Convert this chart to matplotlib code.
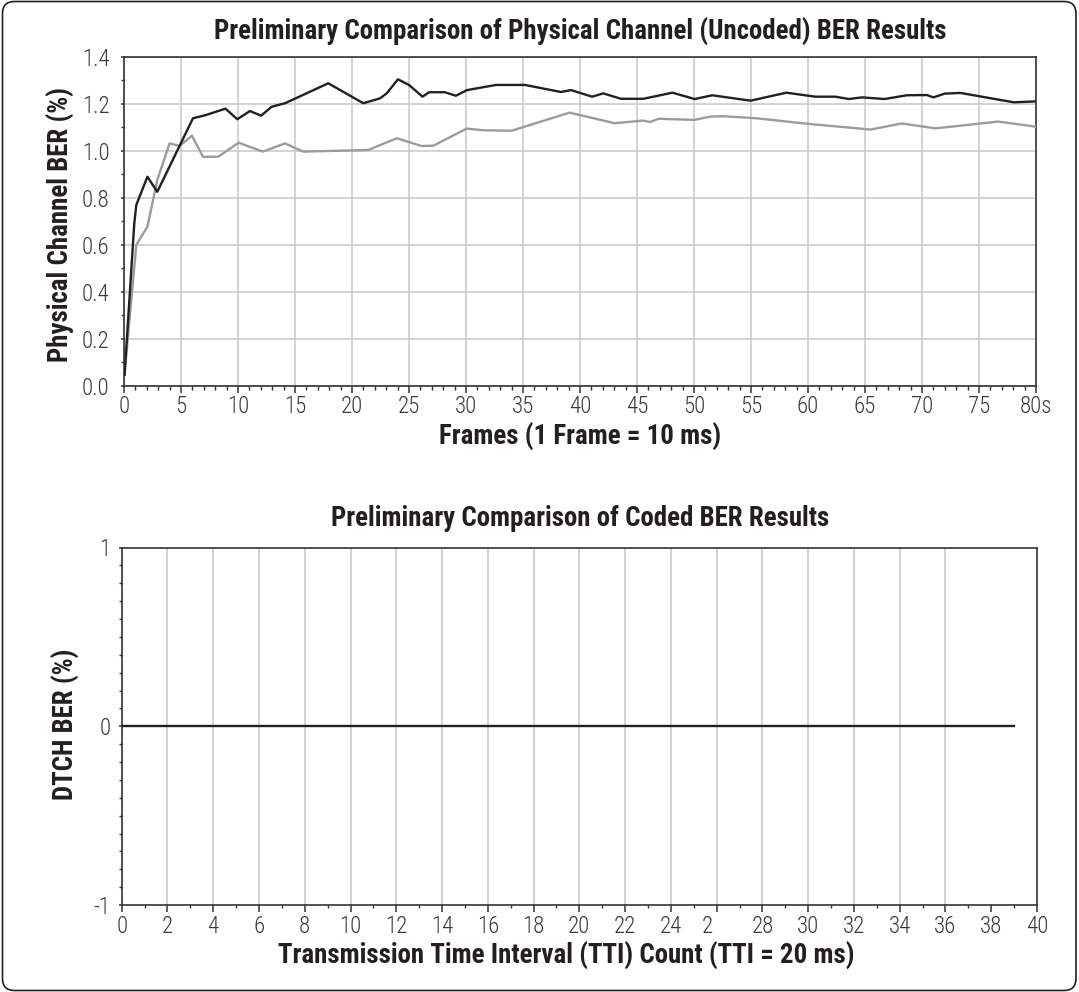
import numpy as np
import matplotlib
matplotlib.use("Agg")
import matplotlib.pyplot as plt
from matplotlib import font_manager
from matplotlib.patches import FancyBboxPatch
from matplotlib.transforms import ScaledTranslation

# ---- data -------------------------------------------------------------
# Physical channel (uncoded) BER, two measurement runs
frames_black = [0.05, 0.9, 1.08, 2.05, 2.92, 6.05, 7.2, 8.9, 9.94, 11.05,
                12.02, 12.95, 14.12, 17.92, 20.99, 22.46, 23.04, 24.03, 25.0,
                26.18, 26.76, 28.13, 29.11, 30.09, 32.63, 35.18, 38.32, 39.22,
                41.06, 42.04, 43.6, 45.56, 48.1, 50.06, 51.6, 54.96, 58.1,
                60.64, 62.4, 63.58, 64.75, 66.71, 68.67, 70.43, 71.0, 71.99,
                73.37, 75.71, 78.06, 80.0]
ber_black = [0.046, 0.69, 0.77, 0.89, 0.826, 1.139, 1.153, 1.18, 1.135, 1.17,
             1.15, 1.188, 1.203, 1.288, 1.203, 1.224, 1.245, 1.305, 1.281,
             1.231, 1.25, 1.25, 1.235, 1.259, 1.281, 1.281, 1.251, 1.259,
             1.231, 1.245, 1.222, 1.222, 1.248, 1.221, 1.237, 1.214, 1.248,
             1.231, 1.231, 1.221, 1.228, 1.221, 1.237, 1.238, 1.228, 1.244,
             1.247, 1.227, 1.207, 1.211]

frames_gray = [0.05, 1.08, 2.05, 2.92, 4.0, 4.88, 5.96, 6.93, 8.25, 10.06,
               12.17, 14.12, 15.73, 21.43, 23.92, 26.11, 27.13, 30.06, 31.52,
               34.0, 39.08, 43.05, 45.5, 46.15, 46.9, 50.0, 51.42, 52.5, 55.5,
               60.04, 65.5, 68.23, 71.17, 76.69, 80.0]
ber_gray = [0.05, 0.6, 0.677, 0.876, 1.032, 1.021, 1.065, 0.975, 0.975, 1.035,
            0.997, 1.032, 0.997, 1.004, 1.054, 1.021, 1.022, 1.095, 1.088,
            1.086, 1.163, 1.118, 1.129, 1.123, 1.137, 1.132, 1.146, 1.148,
            1.139, 1.115, 1.091, 1.117, 1.096, 1.125, 1.103]

top_xticks = [0, 5, 10, 15, 20, 25, 30, 35, 40, 45, 50, 55, 60, 65, 70, 75, 80]
top_xticklabels = ["0", "5", "10", "15", "20", "25", "30", "35", "40", "45",
                   "50", "55", "60", "65", "70", "75", "80s"]
top_yticks = [0.0, 0.2, 0.4, 0.6, 0.8, 1.0, 1.2, 1.4]
top_yticklabels = ["0.0", "0.2", "0.4", "0.6", "0.8", "1.0", "1.2", "1.4"]

# Coded (DTCH) BER per TTI
tti = [0, 1, 2, 3, 4, 5, 6, 7, 8, 9, 10, 11, 12, 13, 14, 15, 16, 17, 18, 19,
       20, 21, 22, 23, 24, 25, 26, 27, 28, 29, 30, 31, 32, 33, 34, 35, 36, 37,
       38, 39]
dtch_ber = [0, 0, 0, 0, 0, 0, 0, 0, 0, 0, 0, 0, 0, 0, 0, 0, 0, 0, 0, 0,
            0, 0, 0, 0, 0, 0, 0, 0, 0, 0, 0, 0, 0, 0, 0, 0, 0, 0, 0, 0]

bot_xticks = [0, 2, 4, 6, 8, 10, 12, 14, 16, 18, 20, 22, 24, 26, 28, 30, 32,
              34, 36, 38, 40]
bot_xticklabels = ["0", "2", "4", "6", "8", "10", "12", "14", "16", "18", "20",
                   "22", "24", "2", "28", "30", "32", "34", "36", "38", "40"]
bot_gridx = [2, 4, 6, 8, 10, 12, 14, 16, 18, 20, 22, 24, 26, 28, 30, 32, 34, 36]
bot_yticks = [-1, 0, 1]
bot_yticklabels = ["-1", "0", "1"]

# ---- fonts ------------------------------------------------------------
available = {f.name for f in font_manager.fontManager.ttflist}
narrow = next((n for n in ["Roboto Condensed", "Liberation Sans Narrow",
                           "Liberation Sans"] if n in available), "DejaVu Sans")
FAM = [narrow, "DejaVu Sans"]

INK = "#231f20"
AXC = "#333333"
GRID = "#c8c8c8"
TICK_FS = 16.5
LAB_FS = 19.4

W, H = 1079, 992
fig = plt.figure(figsize=(W / 100, H / 100), dpi=100)


def fx(x):
    return x / W


def fy(y):
    return 1 - y / H


def style_axes(ax, xmaj_len, xmin_len, ymaj_len, ymin_len, xpad, ypad):
    for sp in ax.spines.values():
        sp.set_color(AXC)
        sp.set_linewidth(1.2)
    ax.tick_params(axis="x", which="major", direction="out", length=xmaj_len,
                   width=1.1, color=AXC, pad=xpad, labelsize=TICK_FS,
                   labelcolor="#3a3a3a")
    ax.tick_params(axis="x", which="minor", direction="out", length=xmin_len,
                   width=1.0, color=AXC)
    ax.tick_params(axis="y", which="major", direction="out", length=ymaj_len,
                   width=1.1, color=AXC, pad=ypad, labelsize=TICK_FS,
                   labelcolor="#3a3a3a")
    ax.tick_params(axis="y", which="minor", direction="out", length=ymin_len,
                   width=1.0, color=AXC)
    for lbl in ax.get_xticklabels() + ax.get_yticklabels():
        lbl.set_family(FAM)
        lbl.set_fontweight("light")


# ---- top chart --------------------------------------------------------
ax1 = fig.add_axes([fx(124), fy(385.7), (1036 - 124) / W, (385.7 - 57) / H])
ax1.plot(frames_gray, ber_gray, color="#9b9b9b", lw=1.7, zorder=3)
ax1.plot(frames_black, ber_black, color=INK, lw=1.7, zorder=4)
ax1.set_xlim(0, 80)
ax1.set_ylim(0, 1.4)
ax1.set_xticks(top_xticks)
ax1.set_xticklabels(top_xticklabels)
ax1.set_xticks(np.arange(0, 81, 1), minor=True)
ax1.set_yticks(top_yticks)
ax1.set_yticklabels(top_yticklabels)
ax1.set_yticks(np.arange(0, 1.41, 0.1), minor=True)
ax1.grid(which="major", color=GRID, lw=1.1)
ax1.set_axisbelow(True)
style_axes(ax1, 5, 3, 2.5, 2.5, 1.5, 8)

fig.text(fx(580), fy(39.5),
         "Preliminary Comparison of Physical Channel (Uncoded) BER Results",
         ha="center", va="baseline", fontsize=LAB_FS, fontweight="bold",
         color=INK, family=FAM)
fig.text(fx(580), fy(445), "Frames (1 Frame = 10 ms)", ha="center",
         va="baseline", fontsize=LAB_FS, fontweight="bold", color=INK,
         family=FAM)
fig.text(fx(69), fy(224), "Physical Channel BER (%)", ha="center",
         va="baseline", rotation=90, rotation_mode="anchor",
         fontsize=LAB_FS, fontweight="bold", color=INK, family=FAM)

# ---- bottom chart -----------------------------------------------------
ax2 = fig.add_axes([fx(121.7), fy(905), (1037 - 121.7) / W, (905 - 547.5) / H])
for gx in bot_gridx:
    ax2.axvline(gx, color=GRID, lw=1.1, zorder=1)
ax2.plot(tti, dtch_ber, color=INK, lw=1.7, zorder=4)
ax2.set_xlim(0, 40)
ax2.set_ylim(-1, 1)
ax2.set_xticks(bot_xticks)
ax2.set_xticklabels(bot_xticklabels)
ax2.set_xticks(np.arange(0, 41, 1), minor=True)
ax2.set_yticks(bot_yticks)
ax2.set_yticklabels(bot_yticklabels)
ax2.set_yticks(np.arange(-1, 1.01, 0.1), minor=True)
style_axes(ax2, 5, 2, 2.5, 2, 2.5, 5.5)
# the truncated "2" label sits left of its tick
odd = ax2.xaxis.get_major_ticks()[13].label1
odd.set_transform(odd.get_transform()
                  + ScaledTranslation(-0.09, 0, fig.dpi_scale_trans))

fig.text(fx(580), fy(526), "Preliminary Comparison of Coded BER Results",
         ha="center", va="baseline", fontsize=LAB_FS, fontweight="bold",
         color=INK, family=FAM)
fig.text(fx(566), fy(964),
         "Transmission Time Interval (TTI) Count (TTI = 20 ms)",
         ha="center", va="baseline", fontsize=LAB_FS, fontweight="bold",
         color=INK, family=FAM)
fig.text(fx(73.5), fy(724), "DTCH BER (%)", ha="center", va="baseline",
         rotation=90, rotation_mode="anchor", fontsize=LAB_FS,
         fontweight="bold", color=INK, family=FAM)

# ---- rounded frame round the whole figure -----------------------------
frame = FancyBboxPatch((0.025, 0.015), 10.735, 9.89,
                       boxstyle="round,pad=0,rounding_size=0.12",
                       transform=fig.dpi_scale_trans, fill=False,
                       edgecolor=INK, lw=1.2)
fig.patches.append(frame)

fig.savefig("out.png", dpi=100)
